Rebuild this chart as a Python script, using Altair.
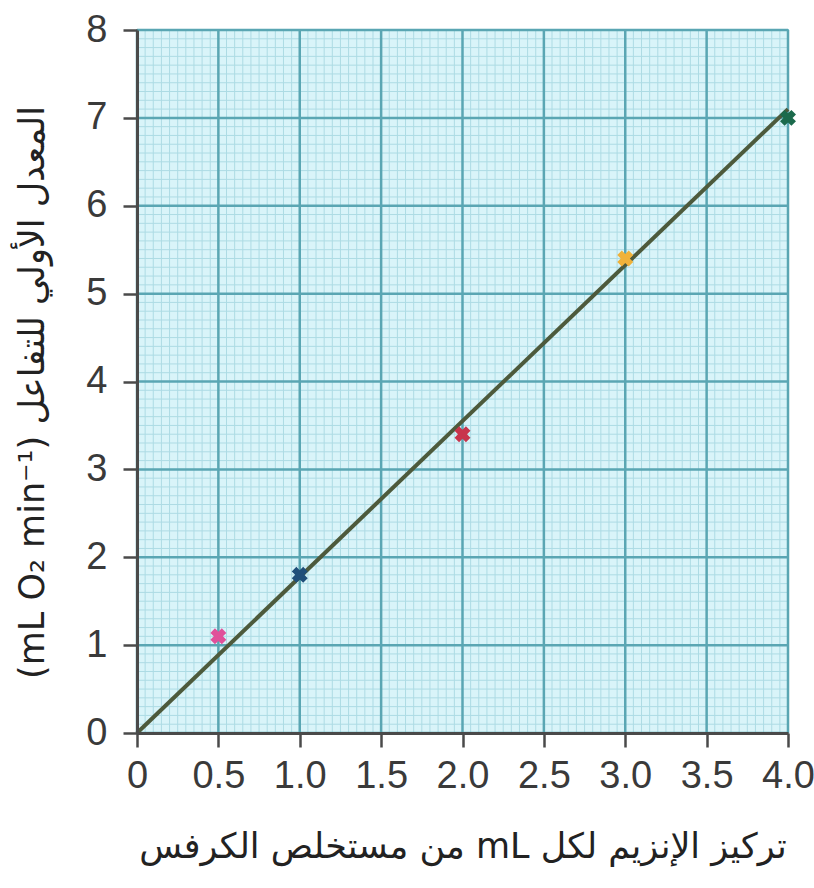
import altair as alt
import pandas as pd

# Data
conc = [0.5, 1.0, 2.0, 3.0, 4.0]
rate = [1.1, 1.8, 3.4, 5.4, 7.0]
point_colors = ["#e0509a", "#1f4f7a", "#c8344c", "#f0b23a", "#1b6a4c"]
fit_x = [0.0, 4.0]
fit_y = [0.0, 7.1]
x_ticks = [0, 0.5, 1.0, 1.5, 2.0, 2.5, 3.0, 3.5, 4.0]
y_ticks = [0, 1, 2, 3, 4, 5, 6, 7, 8]

RLE, PDF = "\u202B", "\u202C"
x_title = RLE + "تركيز الإنزيم لكل mL من مستخلص الكرفس" + PDF
# left-to-right base: unit first, then the Arabic run (rendered right-to-left)
y_title = "(mL O₂ min⁻¹) " + "المعدل الأولي للتفاعل"

minor_x = [round(i * 0.05, 2) for i in range(0, 81)]
minor_y = [round(i * 0.1, 1) for i in range(0, 81)]

W, H = 651, 703
FONT = "Liberation Sans"

xs = alt.Scale(domain=[0, 4], nice=False, zero=False)
ys = alt.Scale(domain=[0, 8], nice=False, zero=False)

xaxis = alt.Axis(values=x_ticks,
                 labelExpr="datum.value == 0 ? '0' : format(datum.value, '.1f')",
                 title=x_title, grid=False, zindex=2, labelFlush=False, labelOverlap=False)
yaxis = alt.Axis(values=y_ticks, format="d", title=y_title, grid=False, zindex=2,
                 labelFlush=False, labelOverlap=False, titleY=362)

pts = pd.DataFrame({"x": conc, "y": rate, "c": [str(i) for i in range(len(conc))]})
fit = pd.DataFrame({"x": fit_x, "y": fit_y})

minor_v = alt.Chart(pd.DataFrame({"x": minor_x})).mark_rule(color="#addbe4", strokeWidth=1).encode(
    x=alt.X("x:Q", scale=xs, axis=xaxis))
minor_h = alt.Chart(pd.DataFrame({"y": minor_y})).mark_rule(color="#addbe4", strokeWidth=1).encode(
    y=alt.Y("y:Q", scale=ys, axis=yaxis))
major_v = alt.Chart(pd.DataFrame({"x": x_ticks})).mark_rule(color="#5aa6b3", strokeWidth=2.5).encode(
    x=alt.X("x:Q", scale=xs, axis=xaxis))
major_h = alt.Chart(pd.DataFrame({"y": y_ticks})).mark_rule(color="#5aa6b3", strokeWidth=2.5).encode(
    y=alt.Y("y:Q", scale=ys, axis=yaxis))

line = alt.Chart(fit).mark_line(color="#4d5a3c", strokeWidth=4).encode(
    x=alt.X("x:Q", scale=xs, axis=xaxis),
    y=alt.Y("y:Q", scale=ys, axis=yaxis),
)

points = alt.Chart(pts).mark_point(shape="cross", filled=True, size=260, angle=45, opacity=1).encode(
    x=alt.X("x:Q", scale=xs, axis=xaxis),
    y=alt.Y("y:Q", scale=ys, axis=yaxis),
    color=alt.Color("c:N", scale=alt.Scale(domain=[str(i) for i in range(len(conc))], range=point_colors), legend=None),
)

chart = alt.layer(minor_v, minor_h, major_v, major_h, line, points).properties(
    width=W, height=H,
    autosize=alt.AutoSizeParams(type="none"),
    padding={"left": 137, "top": 30, "right": 26, "bottom": 155},
    background="white",
).configure_view(
    fill="#d9f4f9", stroke="#7fc3cf", strokeWidth=2
).configure_axis(
    domainColor="#4a4a4a", domainWidth=3,
    tickColor="#4a4a4a", tickWidth=2.5, tickSize=14,
    labelFont=FONT, labelFontSize=38, labelColor="#3a3a3a",
    titleFont="DejaVu Sans", titleFontSize=35, titleColor="#222222", titleFontWeight="normal",
).configure_axisX(
    labelPadding=10, titlePadding=34,
).configure_axisY(
    labelPadding=16, titlePadding=35,
)

chart.save("out.html", embed_options={"renderer": "svg", "actions": False})
